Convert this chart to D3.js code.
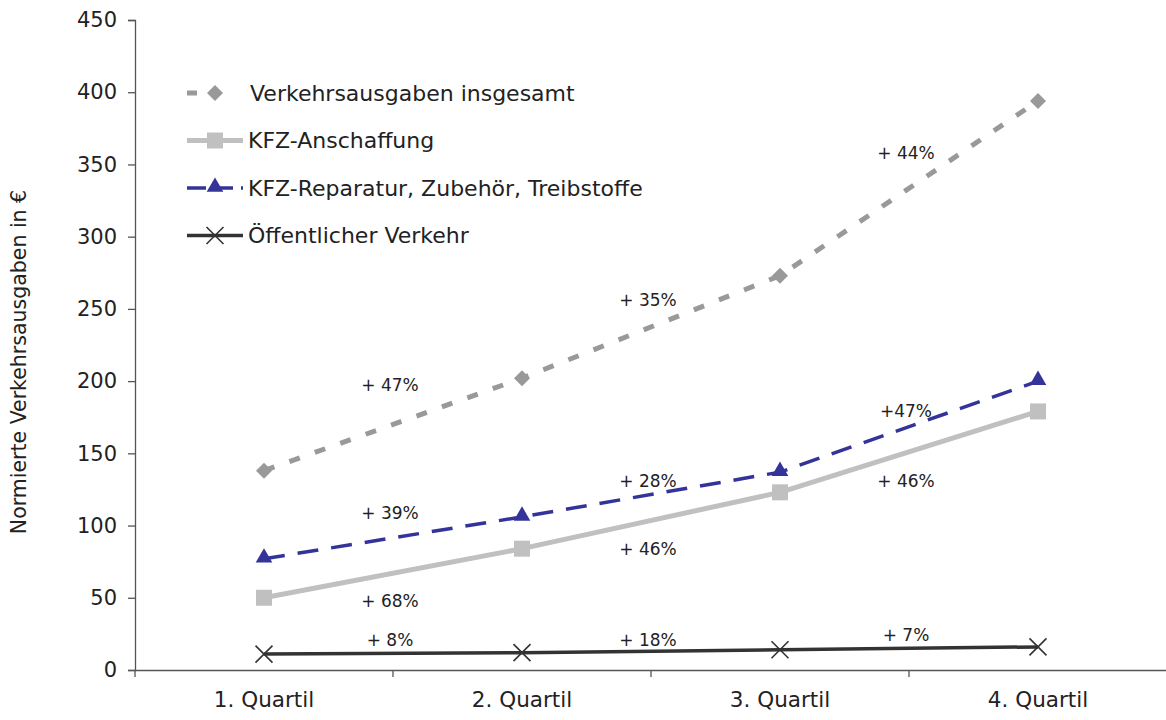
<!DOCTYPE html>
<html>
<head>
<meta charset="utf-8">
<script src="https://d3js.org/d3.v7.min.js"></script>
<style>
  body { margin: 0; background: #fff; }
  text { font-family: "DejaVu Sans", sans-serif; fill: #222; }
</style>
</head>
<body>
<div id="chart"></div>
<script>
// categories and series
const quartiles = ["1. Quartil", "2. Quartil", "3. Quartil", "4. Quartil"];
const gesamt = [138, 202, 273, 394];
const anschaffung = [50, 84, 123, 179];
const reparatur = [77, 106, 137, 200];
const oeffentlich = [11, 12, 14, 16];
const yTicks = [0, 50, 100, 150, 200, 250, 300, 350, 400, 450];

// growth labels between quartiles: [gap index, value level, text]
const growthLabels = [
  [0, 197, "+ 47%"], [0, 109, "+ 39%"], [0, 48, "+ 68%"], [0, 21, "+ 8%"],
  [1, 256, "+ 35%"], [1, 131, "+ 28%"], [1, 84, "+ 46%"], [1, 21, "+ 18%"],
  [2, 358, "+ 44%"], [2, 179, "+47%"], [2, 131, "+ 46%"], [2, 24, "+ 7%"]
];

const series = [
  { name: "Verkehrsausgaben insgesamt", values: gesamt, color: "#999999", width: 5, dash: "11,16", symbol: "diamond" },
  { name: "KFZ-Anschaffung", values: anschaffung, color: "#c0c0c0", width: 5, dash: null, symbol: "square" },
  { name: "KFZ-Reparatur, Zubehör, Treibstoffe", values: reparatur, color: "#333399", width: 3.5, dash: "21,13", symbol: "triangle" },
  { name: "Öffentlicher Verkehr", values: oeffentlich, color: "#333333", width: 3.5, dash: null, symbol: "x" }
];

const W = 1166, H = 720;
const margin = { top: 20, right: 0, bottom: 50, left: 135 };

const svg = d3.select("#chart").append("svg")
  .attr("width", W).attr("height", H);

const x = d3.scaleBand().domain(quartiles).range([margin.left, 1167]);
const y = d3.scaleLinear().domain([0, 450]).range([H - margin.bottom, margin.top]);
const cx = d => x(d) + x.bandwidth() / 2;

// y axis
const yAxis = svg.append("g")
  .attr("transform", "translate(" + margin.left + ",0)")
  .call(d3.axisLeft(y).tickValues(yTicks).tickSize(7).tickPadding(11));
yAxis.select(".domain").attr("stroke", "#555").attr("stroke-width", 1.3);
yAxis.selectAll(".tick line").attr("stroke", "#555").attr("stroke-width", 1.3);
yAxis.selectAll("text").style("font-size", "21px").attr("fill", "#222");

// x axis (labels at centers, ticks at band edges)
const xAxis = svg.append("g")
  .attr("transform", "translate(0," + y(0) + ")")
  .call(d3.axisBottom(x).tickSize(0).tickPadding(22));
xAxis.select(".domain").attr("stroke", "#555").attr("stroke-width", 1.3);
xAxis.selectAll("text").style("font-size", "21.5px").attr("fill", "#222");
xAxis.selectAll(".edge")
  .data(quartiles)
  .enter().append("line")
  .attr("x1", d => x(d)).attr("x2", d => x(d))
  .attr("y1", 0).attr("y2", 7)
  .attr("stroke", "#555").attr("stroke-width", 1.3);

// y title
svg.append("text")
  .attr("transform", "translate(26," + (margin.top + (y(0) - margin.top) / 2 + 17) + ") rotate(-90)")
  .attr("text-anchor", "middle")
  .style("font-size", "20.5px")
  .text("Normierte Verkehrsausgaben in €");

function marker(g, type, color) {
  if (type === "diamond") {
    g.append("path").attr("d", d3.symbol().type(d3.symbolSquare).size(128)())
      .attr("transform", "rotate(45)").attr("fill", color);
  } else if (type === "square") {
    g.append("path").attr("d", d3.symbol().type(d3.symbolSquare).size(256)()).attr("fill", color);
  } else if (type === "triangle") {
    g.append("path").attr("d", d3.symbol().type(d3.symbolTriangle).size(120)())
      .attr("transform", "translate(0,-1)").attr("fill", color);
  } else {
    g.append("path").attr("d", d3.symbol().type(d3.symbolX).size(190)())
      .attr("fill", "none").attr("stroke", color).attr("stroke-width", 1.6);
  }
}

const line = d3.line().x((d, i) => cx(quartiles[i])).y(d => y(d));

// draw bottom series first so totals sit on top
series.slice().reverse().forEach(s => {
  svg.append("path")
    .datum(s.values)
    .attr("d", line)
    .attr("fill", "none")
    .attr("stroke", s.color)
    .attr("stroke-width", s.width)
    .attr("stroke-dasharray", s.dash);
  s.values.forEach((v, i) => {
    const g = svg.append("g").attr("transform", "translate(" + cx(quartiles[i]) + "," + y(v) + ")");
    marker(g, s.symbol, s.color);
  });
});

// growth labels
svg.selectAll(".growth")
  .data(growthLabels)
  .enter().append("text")
  .attr("x", d => x(quartiles[d[0] + 1]) - 3)
  .attr("y", d => y(d[1]))
  .attr("dy", "0.35em")
  .attr("text-anchor", "middle")
  .style("font-size", "17px")
  .text(d => d[2]);

// legend
const legend = svg.append("g").attr("transform", "translate(187,93)");
series.forEach((s, i) => {
  const g = legend.append("g").attr("transform", "translate(0," + (i * 47.5) + ")");
  if (s.symbol === "diamond") {
    g.append("line").attr("x1", 0).attr("x2", 10).attr("y1", 0).attr("y2", 0)
      .attr("stroke", s.color).attr("stroke-width", s.width);
  } else {
    g.append("line").attr("x1", 0).attr("x2", 56).attr("y1", 0).attr("y2", 0)
      .attr("stroke", s.color).attr("stroke-width", s.width)
      .attr("stroke-dasharray", s.symbol === "triangle" ? "19,8" : null);
  }
  marker(g.append("g").attr("transform", "translate(28,0)"), s.symbol, s.color);
  g.append("text")
    .attr("x", i === 0 ? 63 : 61)
    .attr("dy", "0.35em")
    .style("font-size", "22px")
    .text(s.name);
});
</script>
</body>
</html>
